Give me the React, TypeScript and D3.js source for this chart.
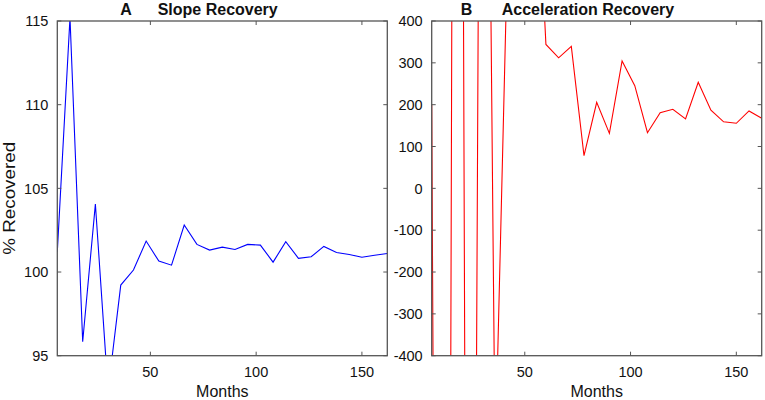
import React from "react";
import * as d3 from "d3";

const months = [6, 12, 18, 24, 30, 36, 42, 48, 54, 60, 66, 72, 78, 84, 90, 96, 102, 108, 114, 120, 126, 132, 138, 144, 150, 156, 162];
const slopeRecovery = [101.2, 115.2, 95.83, 104.06, 92.9, 99.22, 100.12, 101.85, 100.65, 100.41, 102.81, 101.65, 101.31, 101.49, 101.35, 101.65, 101.61, 100.59, 101.81, 100.82, 100.91, 101.53, 101.17, 101.05, 100.88, 101.0, 101.11];
const accelRecovery = [200, -5630, 4730, -3800, 2550, -650, 600, 800, 950, 344, 312, 339.5, 78, 205.6, 131.5, 304.4, 245.4, 133, 181, 189, 166, 253.5, 187, 159, 155.5, 185, 167.5];
const xTicks = [50, 100, 150];
const slopeTicks = [95, 100, 105, 110, 115];
const accelTicks = [-400, -300, -200, -100, 0, 100, 200, 300, 400];

const FONT = "'Liberation Sans', Arial, Helvetica, sans-serif";
const TOP = 21;
const BOTTOM = 355.7;
const FRAME = "#555";
const TICK = 4;

type PanelProps = {
  id: string;
  left: number;
  right: number;
  yDomain: [number, number];
  yTicks: number[];
  values: number[];
  color: string;
  letter: string;
  letterX: number;
  title: string;
  titleX: number;
};

function Panel(p: PanelProps) {
  const x = d3.scaleLinear().domain([6, 162]).range([p.left, p.right]);
  const y = d3.scaleLinear().domain(p.yDomain).range([BOTTOM, TOP]);
  const line = d3
    .line<number>()
    .x((_, i) => x(months[i]))
    .y((d) => y(d));
  const path = line(p.values) || "";
  return (
    <g>
      <defs>
        <clipPath id={`clip-${p.id}`}>
          <rect x={p.left} y={TOP} width={p.right - p.left} height={BOTTOM - TOP} />
        </clipPath>
      </defs>
      <path d={path} fill="none" stroke={p.color} strokeWidth={1.1} clipPath={`url(#clip-${p.id})`} />
      <rect x={p.left} y={TOP} width={p.right - p.left} height={BOTTOM - TOP} fill="none" stroke={FRAME} strokeWidth={1.3} />
      {xTicks.map((t) => (
        <g key={`x${t}`}>
          <line x1={x(t)} x2={x(t)} y1={BOTTOM} y2={BOTTOM - TICK} stroke={FRAME} />
          <line x1={x(t)} x2={x(t)} y1={TOP} y2={TOP + TICK} stroke={FRAME} />
          <text x={x(t)} y={377} textAnchor="middle" fontSize={14.5} fontFamily={FONT} fill="#111">
            {t}
          </text>
        </g>
      ))}
      {p.yTicks.map((t) => (
        <g key={`y${t}`}>
          <line x1={p.left} x2={p.left + TICK} y1={y(t)} y2={y(t)} stroke={FRAME} />
          <line x1={p.right} x2={p.right - TICK} y1={y(t)} y2={y(t)} stroke={FRAME} />
          <text x={p.left - 9} y={y(t)} dy="0.36em" textAnchor="end" fontSize={14.5} fontFamily={FONT} fill="#111">
            {t}
          </text>
        </g>
      ))}
      <text x={(p.left + p.right) / 2} y={396.5} textAnchor="middle" fontSize={16} fontFamily={FONT} fill="#111">
        Months
      </text>
      <text x={p.letterX} y={15} textAnchor="middle" fontSize={16} fontWeight="bold" fontFamily={FONT} fill="#111">
        {p.letter}
      </text>
      <text x={p.titleX} y={15} textAnchor="start" fontSize={16} fontWeight="bold" fontFamily={FONT} fill="#111">
        {p.title}
      </text>
    </g>
  );
}

export default function App() {
  return (
    <svg
      width={765}
      height={400}
      viewBox="0 0 765 400"
      style={{ position: "absolute", left: 0, top: 0, background: "#fff" }}
    >
      <rect x={0} y={0} width={765} height={400} fill="#fff" />
      <Panel
        id="a"
        left={57.3}
        right={387.3}
        yDomain={[95, 115]}
        yTicks={slopeTicks}
        values={slopeRecovery}
        color="#0000ff"
        letter="A"
        letterX={126}
        title="Slope Recovery"
        titleX={157.7}
      />
      <Panel
        id="b"
        left={431.7}
        right={761.7}
        yDomain={[-400, 400]}
        yTicks={accelTicks}
        values={accelRecovery}
        color="#ff0000"
        letter="B"
        letterX={466.5}
        title="Acceleration Recovery"
        titleX={501.7}
      />
      <text
        transform="translate(15,198.3) rotate(-90)"
        textAnchor="middle"
        fontSize={17}
        fontFamily={FONT}
        fill="#111"
        textLength={113}
        lengthAdjust="spacingAndGlyphs"
      >
        % Recovered
      </text>
    </svg>
  );
}
